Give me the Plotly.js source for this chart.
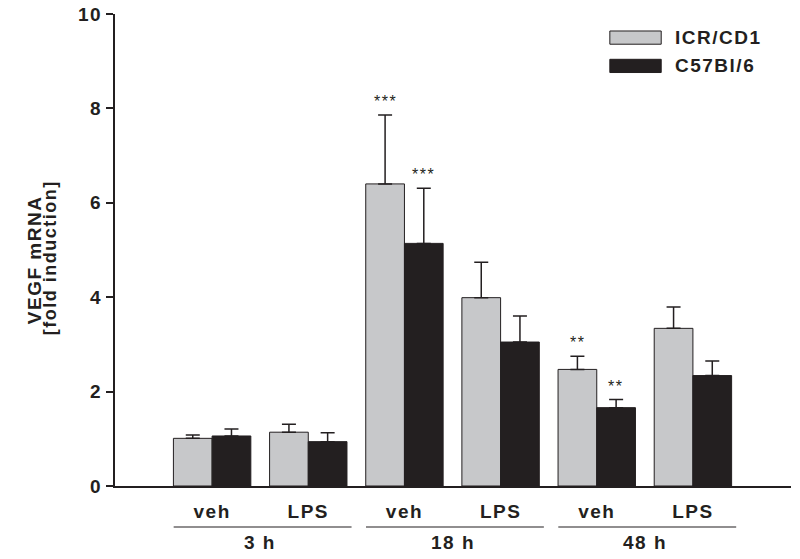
<!DOCTYPE html>
<html>
<head>
<meta charset="utf-8">
<script src="https://cdn.plot.ly/plotly-3.0.1.min.js"></script>
<style>
  html, body { margin: 0; padding: 0; background: #fff; }
  #chart { width: 800px; height: 559px; }
  svg text { letter-spacing: 1.5px; }
</style>
</head>
<body>
<div id="chart"></div>
<script>
// ---- data ----
const categories = ['veh', 'LPS', 'veh', 'LPS', 'veh', 'LPS'];
const groupLabels = ['3 h', '18 h', '48 h'];
const seriesNames = ['ICR/CD1', 'C57Bl/6'];
const icrValues = [1.01, 1.14, 6.40, 3.99, 2.47, 3.34];
const icrErrors = [0.07, 0.17, 1.46, 0.75, 0.28, 0.45];
const c57Values = [1.06, 0.94, 5.14, 3.05, 1.66, 2.34];
const c57Errors = [0.15, 0.19, 1.17, 0.55, 0.17, 0.31];
const icrSignif = ['', '', '***', '', '**', ''];
const c57Signif = ['', '', '***', '', '**', ''];
const yTickVals = [0, 2, 4, 6, 8, 10];

// ---- styles ----
const INK = '#231f20';
const GRAY = '#c7c8ca';
const FONT = 'Liberation Sans, Arial, sans-serif';
const xIdx = categories.map((_, i) => i);

const traces = [
  {
    type: 'bar', name: seriesNames[0], x: xIdx, y: icrValues,
    marker: { color: GRAY, line: { color: INK, width: 1 } },
    error_y: { type: 'data', symmetric: false, array: icrErrors,
               arrayminus: icrErrors.map(() => 0), color: INK, thickness: 1.5, width: 7 },
    showlegend: false, hoverinfo: 'skip'
  },
  {
    type: 'bar', name: seriesNames[1], x: xIdx, y: c57Values,
    marker: { color: INK, line: { color: INK, width: 1 } },
    error_y: { type: 'data', symmetric: false, array: c57Errors,
               arrayminus: c57Errors.map(() => 0), color: INK, thickness: 1.5, width: 7 },
    showlegend: false, hoverinfo: 'skip'
  }
];

const annotations = [];
const shapes = [];
const barOffset = 0.2;
// significance stars
icrSignif.forEach((s, i) => {
  if (s) annotations.push({ x: i - barOffset, y: icrValues[i] + icrErrors[i], xref: 'x', yref: 'y',
    text: s, showarrow: false, yanchor: 'bottom', yshift: 3,
    font: { family: FONT, size: 16, color: INK } });
});
c57Signif.forEach((s, i) => {
  if (s) annotations.push({ x: i + barOffset, y: c57Values[i] + c57Errors[i], xref: 'x', yref: 'y',
    text: s, showarrow: false, yanchor: 'bottom', yshift: 3,
    font: { family: FONT, size: 16, color: INK } });
});
// group labels + underline
groupLabels.forEach((g, k) => {
  const a = 2 * k, b = 2 * k + 1;
  shapes.push({ type: 'line', xref: 'x', yref: 'paper', ysizemode: 'pixel', yanchor: 0,
    x0: a - 0.4, x1: b + 0.45, y0: -41, y1: -41, line: { color: INK, width: 1.2 } });
  annotations.push({ x: (a + b) / 2, y: 0, xref: 'x', yref: 'paper', yanchor: 'middle',
    yshift: -56, text: g, showarrow: false,
    font: { family: FONT, size: 19, color: INK, weight: 'bold' } });
});
// legend (custom, long swatches)
const legendRows = [[0.964, 0.936, GRAY], [0.904, 0.876, INK]];
seriesNames.forEach((n, i) => {
  const r = legendRows[i];
  shapes.push({ type: 'rect', xref: 'paper', yref: 'paper', x0: 0.732, x1: 0.808, y0: r[1], y1: r[0],
    fillcolor: r[2], line: { color: INK, width: 1 } });
  annotations.push({ x: 0.825, y: (r[0] + r[1]) / 2, xref: 'paper', yref: 'paper', xanchor: 'left',
    yanchor: 'middle', text: n, showarrow: false,
    font: { family: FONT, size: 19, color: INK, weight: 'bold' } });
});
// y-axis title (two lines)
annotations.push({ x: -0.118, y: 0.479, xref: 'paper', yref: 'paper', textangle: -90,
  text: 'VEGF mRNA', showarrow: false, xanchor: 'center', yanchor: 'middle',
  font: { family: FONT, size: 19, color: INK, weight: 'bold' } });
annotations.push({ x: -0.096, y: 0.483, xref: 'paper', yref: 'paper', textangle: -90,
  text: '[fold induction]', showarrow: false, xanchor: 'center', yanchor: 'middle',
  font: { family: FONT, size: 18, color: INK, weight: 'bold' } });

const layout = {
  width: 800, height: 559,
  margin: { l: 115, r: 9, t: 14, b: 73 },
  paper_bgcolor: '#fff', plot_bgcolor: '#fff',
  barmode: 'group', bargap: 0.195, bargroupgap: 0,
  showlegend: false,
  xaxis: {
    range: [-1.01, 6.02], tickvals: xIdx, ticktext: categories,
    showline: true, linecolor: INK, linewidth: 2, showgrid: false, zeroline: false,
    ticks: '', ticklabelstandoff: 7,
    tickfont: { family: FONT, size: 19, color: INK, weight: 'bold' }
  },
  yaxis: {
    range: [0, 10], tickvals: yTickVals, ticktext: yTickVals.map(String),
    showline: true, linecolor: INK, linewidth: 2, showgrid: false, zeroline: false,
    ticks: 'outside', ticklen: 7, tickwidth: 2, tickcolor: INK,
    tickfont: { family: FONT, size: 19, color: INK, weight: 'bold' }
  },
  annotations: annotations,
  shapes: shapes
};

Plotly.newPlot('chart', traces, layout, { staticPlot: true, displayModeBar: false });
</script>
</body>
</html>
